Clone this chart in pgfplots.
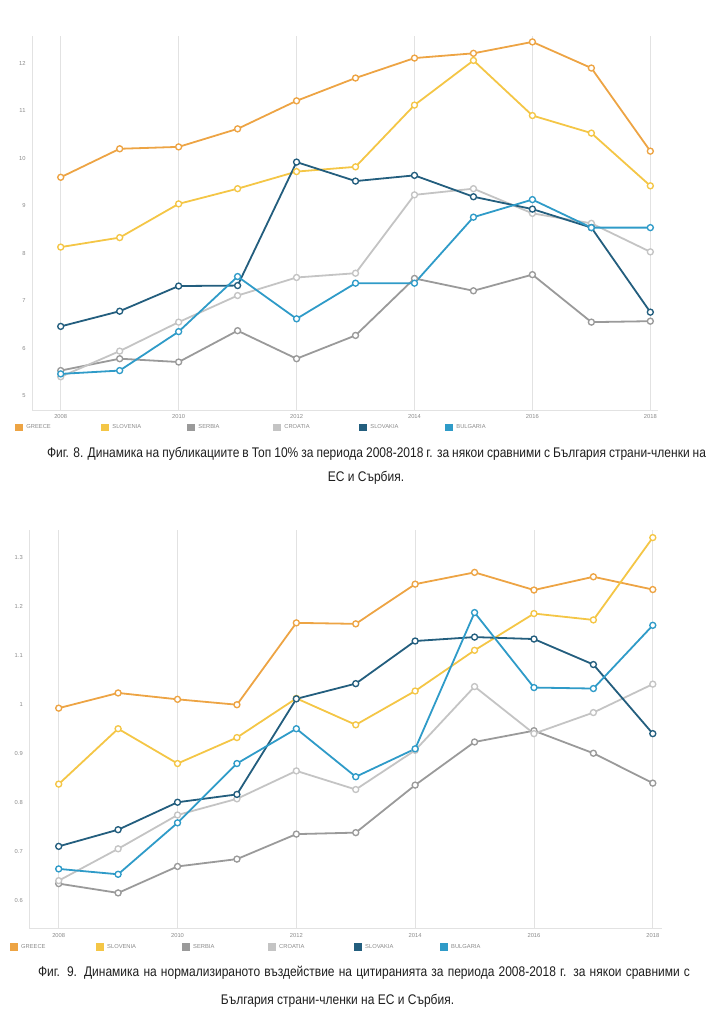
\documentclass[border=0pt]{standalone}
\usepackage{pgfplots}
\pgfplotsset{compat=1.18}
\usepackage{pgfplotstable}
\usepackage{fontspec}
\setmainfont{Liberation Sans}
\newfontfamily\capfont[FakeStretch=0.86]{Liberation Sans}

\definecolor{cGR}{HTML}{EDA444}
\definecolor{cSI}{HTML}{F4C646}
\definecolor{cRS}{HTML}{9A9A9A}
\definecolor{cHR}{HTML}{C4C4C4}
\definecolor{cSK}{HTML}{235E7E}
\definecolor{cBG}{HTML}{2F9BC8}
\definecolor{axgray}{HTML}{E2E2E2}
\definecolor{lblgray}{HTML}{8A8A8A}
\definecolor{captxt}{HTML}{1E1E1E}

\pgfplotstableread{
year GR SI RS HR SK BG
2008 9.60 8.13 5.53 5.40 6.46 5.46
2009 10.20 8.33 5.78 5.94 6.78 5.53
2010 10.24 9.04 5.71 6.55 7.31 6.35
2011 10.62 9.36 6.37 7.11 7.32 7.51
2012 11.21 9.72 5.78 7.49 9.92 6.62
2013 11.69 9.82 6.27 7.58 9.52 7.37
2014 12.11 11.12 7.47 9.23 9.64 7.37
2015 12.21 12.06 7.21 9.36 9.19 8.76
2016 12.45 10.90 7.55 8.84 8.93 9.13
2017 11.90 10.53 6.55 8.63 8.54 8.54
2018 10.15 9.42 6.57 8.03 6.76 8.54
}\topten

\pgfplotstableread{
year GR SI RS HR SK BG
2008 0.993 0.838 0.635 0.641 0.711 0.665
2009 1.024 0.951 0.616 0.706 0.745 0.654
2010 1.011 0.880 0.670 0.775 0.801 0.759
2011 1.000 0.933 0.685 0.808 0.817 0.880
2012 1.167 1.013 0.736 0.865 1.012 0.951
2013 1.165 0.959 0.739 0.827 1.043 0.853
2014 1.246 1.028 0.836 0.907 1.130 0.910
2015 1.270 1.111 0.924 1.037 1.138 1.188
2016 1.234 1.186 0.947 0.941 1.134 1.035
2017 1.261 1.173 0.901 0.984 1.082 1.033
2018 1.235 1.341 0.840 1.042 0.941 1.162
}\fwci

\newcommand\legtxt[1]{\makebox[78.6bp][l]{\hspace{3.5bp}#1}}

\pgfplotsset{
  mychart/.style={
    scale only axis,
    anchor=south west,
    axis x line*=bottom,
    axis y line*=left,
    x axis line style={-, draw=axgray, line width=0.8bp},
    y axis line style={-, draw=axgray, line width=0.8bp},
    xtick={2008,2010,2012,2014,2016,2018},
    xticklabels={2008,2010,2012,2014,2016,2018},
    major tick length=0pt,
    tick style={draw=none},
    xmajorgrids,
    major grid style={draw=axgray, line width=0.8bp},
    tick label style={font=\fontsize{5.8}{6}\selectfont, text=lblgray},
    /pgf/number format/assume math mode=true,
    yticklabel style={xshift=-3bp},
    xticklabel style={yshift=-1bp},
    clip=false,
    every axis plot/.append style={line width=1.8bp, mark=*, mark size=3bp,
      mark options={fill=white, line width=1.35bp, solid}},
    legend columns=6,
    legend cell align=left,
    legend image code/.code={\fill[##1] (0bp,-2.8bp) rectangle (5.6bp,2.8bp);},
    legend style={draw=none, fill=none, inner sep=0pt, outer sep=0pt,
      column sep=0pt, font=\fontsize{5.8}{6}\selectfont, text=lblgray,
      nodes={inner sep=0pt}},
  }
}

\begin{document}
\begin{tikzpicture}
\useasboundingbox (0,0) rectangle (712bp,1024bp);

\begin{axis}[mychart,
  at={(32bp,614bp)}, width=626bp, height=374bp,
  xmin=2007.513, xmax=2018.13, ymin=4.70, ymax=12.575,
  ytick={5,6,7,8,9,10,11,12},
  legend style={at={(rel axis cs:0,0)}, anchor=west, xshift=-16.5bp, yshift=-17.7bp},
  legend entries={\legtxt{GREECE},\legtxt{SLOVENIA},\legtxt{SERBIA},\legtxt{CROATIA},\legtxt{SLOVAKIA},\legtxt{BULGARIA}},
]
\addplot[color=cGR] table[x=year,y=GR] {\topten};
\addplot[color=cSI] table[x=year,y=SI] {\topten};
\addplot[color=cRS] table[x=year,y=RS] {\topten};
\addplot[color=cHR] table[x=year,y=HR] {\topten};
\addplot[color=cSK] table[x=year,y=SK] {\topten};
\addplot[color=cBG] table[x=year,y=BG] {\topten};
\end{axis}

\begin{axis}[mychart,
  at={(29.3bp,95.3bp)}, width=632.4bp, height=398.7bp,
  xmin=2007.505, xmax=2018.15, ymin=0.543, ymax=1.3565,
  ytick={0.6,0.7,0.8,0.9,1,1.1,1.2,1.3},
  legend style={at={(rel axis cs:0,0)}, anchor=west, xshift=-19bp, yshift=-18.3bp},
  legend entries={\legtxt{GREECE},\legtxt{SLOVENIA},\legtxt{SERBIA},\legtxt{CROATIA},\legtxt{SLOVAKIA},\legtxt{BULGARIA}},
]
\addplot[color=cGR] table[x=year,y=GR] {\fwci};
\addplot[color=cSI] table[x=year,y=SI] {\fwci};
\addplot[color=cRS] table[x=year,y=RS] {\fwci};
\addplot[color=cHR] table[x=year,y=HR] {\fwci};
\addplot[color=cSK] table[x=year,y=SK] {\fwci};
\addplot[color=cBG] table[x=year,y=BG] {\fwci};
\end{axis}

\begin{scope}[every node/.style={inner sep=0pt, text=captxt, font=\capfont\fontsize{14}{16}\selectfont}]
\node at (376.5bp,570bp) {\makebox[659bp][s]{Фиг. 8. Динамика на публикациите в Топ 10\% за периода 2008-2018 г. за някои сравними с България страни-членки на}};
\node at (366bp,546bp) {ЕС и Сърбия.};
\node at (364bp,51bp) {\makebox[652bp][s]{Фиг. 9. Динамика на нормализираното въздействие на цитиранията за периода 2008-2018 г. за някои сравними с}};
\node at (337.5bp,23bp) {България страни-членки на ЕС и Сърбия.};
\end{scope}
\end{tikzpicture}
\end{document}
